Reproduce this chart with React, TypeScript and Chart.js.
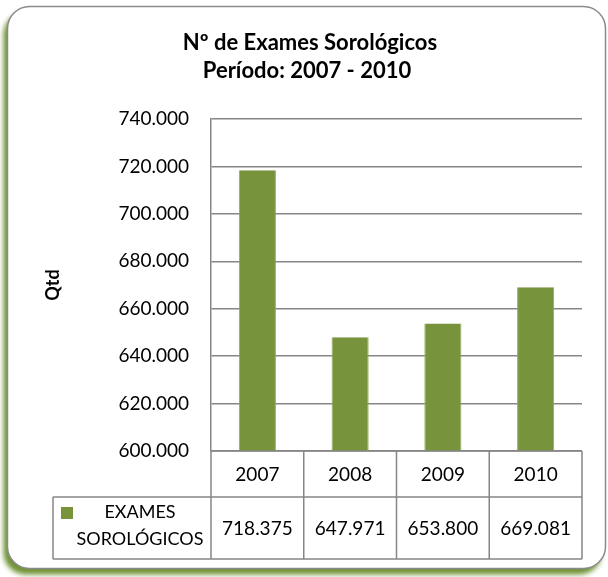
import React, { useEffect, useRef } from "react";
import { Chart, registerables } from "chart.js";

Chart.register(...registerables);

const categories = ["2007", "2008", "2009", "2010"];
const seriesName = ["EXAMES", "SOROLÓGICOS"];
const values = [718375, 647971, 653800, 669081];
const titleLines = ["Nº de Exames Sorológicos", "Período: 2007 - 2010"];
const yTitle = "Qtd";
const yMin = 600000;
const yMax = 740000;
const yStep = 20000;

const BAR = "#77933C";
const GRID = "#868686";
const FONT = "Lato, 'Open Sans', sans-serif";

const fmt = (n: number) => String(Math.round(n)).replace(/\B(?=(\d{3})+(?!\d))/g, ".");

function roundRect(ctx: CanvasRenderingContext2D, x: number, y: number, w: number, h: number, r: number) {
  ctx.beginPath();
  ctx.moveTo(x + r, y);
  ctx.lineTo(x + w - r, y);
  ctx.arcTo(x + w, y, x + w, y + r, r);
  ctx.lineTo(x + w, y + h - r);
  ctx.arcTo(x + w, y + h, x + w - r, y + h, r);
  ctx.lineTo(x + r, y + h);
  ctx.arcTo(x, y + h, x, y + h - r, r);
  ctx.lineTo(x, y + r);
  ctx.arcTo(x, y, x + r, y, r);
  ctx.closePath();
}

const cardPlugin = {
  id: "card",
  beforeDraw(chart: any) {
    const ctx = chart.ctx as CanvasRenderingContext2D;
    ctx.save();
    ctx.shadowColor = "rgba(104,140,42,0.95)";
    ctx.shadowOffsetX = -4;
    ctx.shadowOffsetY = 6;
    ctx.shadowBlur = 5;
    roundRect(ctx, 7.5, 6.5, 598, 562, 22);
    ctx.fillStyle = "#ffffff";
    ctx.fill();
    ctx.restore();
    ctx.save();
    roundRect(ctx, 7.5, 6.5, 598, 562, 22);
    ctx.strokeStyle = "#8a8a8a";
    ctx.lineWidth = 1.5;
    ctx.stroke();
    ctx.restore();
  },
  afterDraw(chart: any) {
    const ctx = chart.ctx as CanvasRenderingContext2D;
    const area = chart.chartArea;
    const x = chart.scales.x;
    ctx.save();
    // title
    ctx.fillStyle = "#000";
    ctx.textAlign = "center";
    ctx.textBaseline = "middle";
    ctx.font = `bold 22px ${FONT}`;
    ctx.fillText(titleLines[0], 310, 43);
    ctx.fillText(titleLines[1], 307, 71);
    // y title
    ctx.save();
    ctx.translate(53, 285);
    ctx.rotate(-Math.PI / 2);
    ctx.font = `bold 18px ${FONT}`;
    ctx.fillText(yTitle, 0, 0);
    ctx.restore();

    // data table
    const half = (area.right - area.left) / categories.length / 2;
    const r1top = area.bottom;
    const r1bot = r1top + 46;
    const r2bot = 559;
    const leftX = 53;
    ctx.strokeStyle = GRID;
    ctx.lineWidth = 1.5;
    ctx.beginPath();
    ctx.moveTo(area.left, r1top);
    ctx.lineTo(area.right, r1top);
    ctx.moveTo(leftX, r1bot);
    ctx.lineTo(area.right, r1bot);
    ctx.moveTo(leftX, r2bot);
    ctx.lineTo(area.right, r2bot);
    ctx.moveTo(leftX, r1bot);
    ctx.lineTo(leftX, r2bot);
    ctx.moveTo(area.left, r1top);
    ctx.lineTo(area.left, r2bot);
    categories.forEach((_, i) => {
      const xr = x.getPixelForValue(i) + half;
      ctx.moveTo(xr, r1top);
      ctx.lineTo(xr, r2bot);
    });
    ctx.stroke();

    ctx.fillStyle = "#000";
    categories.forEach((c, i) => {
      const cx = x.getPixelForValue(i);
      ctx.font = `19px ${FONT}`;
      ctx.fillText(c, cx, (r1top + r1bot) / 2 + 1);
      ctx.fillText(fmt(values[i]), cx, (r1bot + r2bot) / 2 + 1);
    });
    // legend key
    ctx.fillStyle = BAR;
    ctx.fillRect(61, 507, 12, 12);
    ctx.fillStyle = "#000";
    ctx.font = `18px ${FONT}`;
    ctx.fillText(seriesName[0], 140, 512);
    ctx.fillText(seriesName[1], 140, 539);
    ctx.restore();
  },
};

export default function App() {
  const ref = useRef<HTMLCanvasElement>(null);
  useEffect(() => {
    document.body.style.margin = "0";
    const chart = new Chart(ref.current!, {
      type: "bar",
      data: {
        labels: categories,
        datasets: [
          {
            label: seriesName.join(" "),
            data: values,
            backgroundColor: BAR,
            borderColor: "#8fae52",
            borderWidth: { left: 1, right: 1, top: 0, bottom: 0 } as any,
            barPercentage: 0.4,
            categoryPercentage: 1,
          },
        ],
      },
      options: {
        animation: false,
        responsive: false,
        layout: { padding: { top: 119, bottom: 126, left: 0, right: 26 } },
        plugins: { legend: { display: false }, title: { display: false }, tooltip: { enabled: false } },
        scales: {
          x: { display: false },
          y: {
            min: yMin,
            max: yMax,
            afterFit: (s: any) => {
              s.width = 211;
            },
            ticks: {
              stepSize: yStep,
              callback: (v: any) => fmt(Number(v)),
              color: "#000",
              font: { family: FONT, size: 19 },
              padding: 22,
            },
            grid: { color: GRID, lineWidth: 1.5, drawTicks: false },
            border: { color: GRID, width: 1.5 },
          },
        },
      },
      plugins: [cardPlugin],
    });
    return () => chart.destroy();
  }, []);
  return <canvas ref={ref} width={608} height={577} style={{ display: "block" }} />;
}
